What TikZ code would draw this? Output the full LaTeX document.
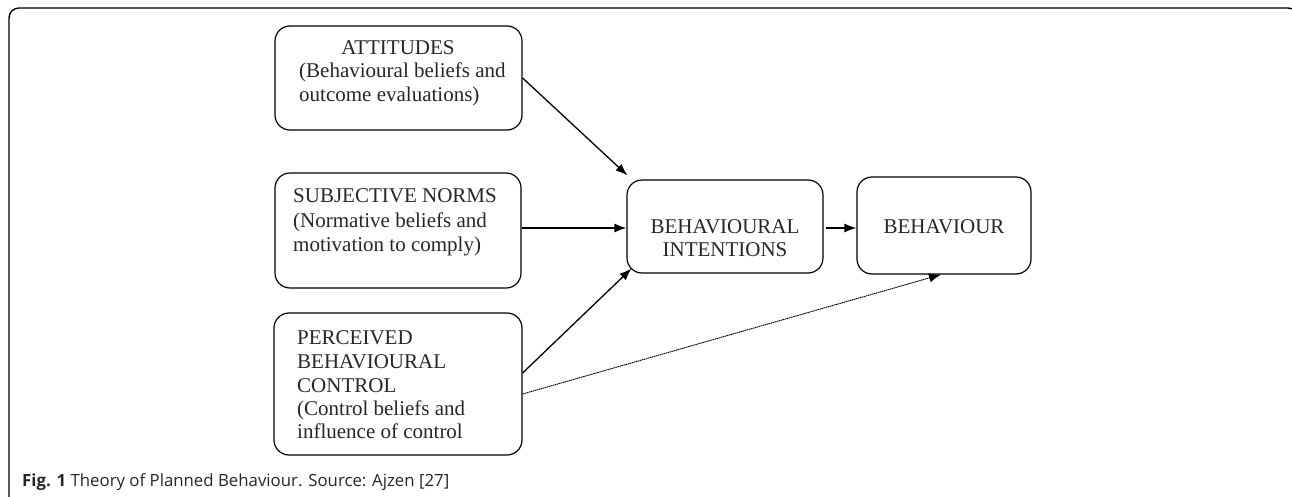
\documentclass[tikz,border=0pt]{standalone}
\usepackage{fontspec}
\setmainfont{Liberation Serif}
\newfontfamily\capfont{Open Sans}
\usetikzlibrary{arrows.meta,calc}
\tikzset{
  box/.style={draw, line width=1.2pt, rounded corners=15pt, inner sep=0pt},
  txt/.style={inner sep=0pt, anchor=base west, font=\fontsize{21}{24}\selectfont, text=black!85},
  ctxt/.style={inner sep=0pt, anchor=base, font=\fontsize{21}{24}\selectfont, text=black!85},
  arr/.style={line width=1.3pt, -{Latex[length=12pt,width=9pt]}},
  dotarr/.style={line width=0.9pt, dash pattern=on 1.5pt off 0.6pt, -{Latex[length=12pt,width=9pt]}},
}
\begin{document}
\begin{tikzpicture}[x=1pt,y=-1pt]
\useasboundingbox (0,0) rectangle (1292,497);
\begin{scope}
\clip (0,0) rectangle (1292,497);
\draw[line width=1.4pt, rounded corners=10pt] (9,510) -- (9,8) -- (1298,8) -- (1298,510);
\end{scope}
% boxes
\node[box, minimum width=247pt, minimum height=104pt] (att) at (398.5,78) {};
\node[box, minimum width=246pt, minimum height=115pt] (sn) at (398,230.5) {};
\node[box, minimum width=248pt, minimum height=142pt] (pbc) at (398,384) {};
\node[box, minimum width=196pt, minimum height=93pt] (bi) at (725,226.5) {};
\node[box, minimum width=174pt, minimum height=97pt] (beh) at (944,225.5) {};
% texts
\node[ctxt] (t1) at (398,55) {ATTITUDES};
\node[txt] (t2) at (299,78) {(Behavioural beliefs and};
\node[txt] (t3) at (299,102) {outcome evaluations)};
\node[txt] (t4) at (293,203) {SUBJECTIVE NORMS};
\node[txt] (t5) at (293,227) {(Normative beliefs and};
\node[txt] (t6) at (293,251) {motivation to comply)};
\node[txt] (t7) at (297,344) {PERCEIVED};
\node[txt] (t8) at (297,368) {BEHAVIOURAL};
\node[txt] (t9) at (297,392) {CONTROL};
\node[txt] (t10) at (297,415) {(Control beliefs and};
\node[txt] (t11) at (297,438) {influence of control};
\node[ctxt] (t12) at (725,233) {BEHAVIOURAL};
\node[ctxt] (t13) at (725,256) {INTENTIONS};
\node[ctxt] (t14) at (944,233) {BEHAVIOUR};
% connectors
\draw[arr] (att.east) -- ($(bi.north west)+(1,-4)$);
\draw[arr] ($(sn.east)+(0,-2.5)$) -- ($(sn.east -| bi.west)+(0,-2.5)$);
\draw[arr] ($(pbc.east)+(0,-11)$) -- ($(bi.south west)+(5,-5)$);
\draw[dotarr] ($(pbc.east)+(0,10)$) -- ($(beh.south)+(-3,0)$);
\draw[arr] ($(bi.east)+(2,1.5)$) -- ($(bi.east -| beh.west)+(0,1.5)$);
% caption
\node[inner sep=0pt, anchor=base west, font=\capfont\fontsize{16.8}{20}\selectfont, text=black!85] (cap) at (22,486) {\textbf{Fig. 1} Theory of Planned Behaviour. Source: Ajzen [27]};
\end{tikzpicture}
\end{document}
